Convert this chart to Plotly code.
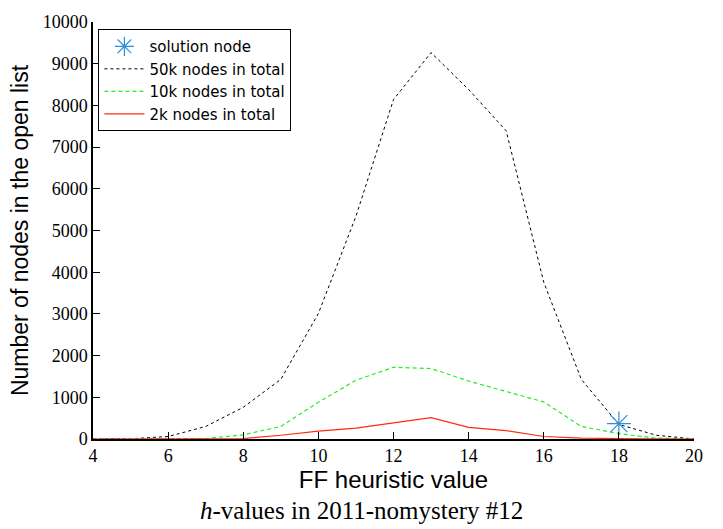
import plotly.graph_objects as go

h_values = list(range(4, 21))
nodes_50k = [0, 5, 60, 300, 760, 1430, 3010, 5340, 8140, 9265, 8380, 7390, 3760, 1430, 350, 90, 0]
nodes_10k = [0, 0, 0, 10, 100, 300, 880, 1410, 1720, 1690, 1390, 1140, 890, 300, 130, 20, 0]
nodes_2k = [0, 0, 0, 0, 10, 90, 190, 260, 390, 510, 280, 200, 60, 20, 10, 0, 0]
solution_h = [18]
solution_n = [370]

x_ticks = [4, 6, 8, 10, 12, 14, 16, 18, 20]
y_ticks = list(range(0, 10001, 1000))

fig = go.Figure()
fig.add_trace(go.Scatter(x=h_values, y=nodes_50k, mode="lines", name="50k nodes in total",
                         legendrank=2,
                         line=dict(color="black", width=1, dash="dot")))
fig.add_trace(go.Scatter(x=h_values, y=nodes_10k, mode="lines", name="10k nodes in total",
                         legendrank=3,
                         line=dict(color="#22ee22", width=1.2, dash="4px,3px")))
fig.add_trace(go.Scatter(x=h_values, y=nodes_2k, mode="lines", name="2k nodes in total",
                         legendrank=4,
                         line=dict(color="#ff2a10", width=1.2)))
fig.add_trace(go.Scatter(x=solution_h, y=solution_n, mode="markers", name="solution node",
                         legendrank=1,
                         marker=dict(symbol="asterisk-open", size=20, color="#2f8fd8",
                                     line=dict(color="#2f8fd8", width=1.2))))

serif = "Liberation Serif, Times New Roman, serif"
sans = "Liberation Sans, Arial, sans-serif"

fig.update_layout(
    width=723, height=529,
    margin=dict(l=93, r=29, t=16, b=90),
    paper_bgcolor="white", plot_bgcolor="white",
    showlegend=True,
    legend=dict(x=0.009, y=0.983, xanchor="left", yanchor="top",
                bordercolor="black", borderwidth=1, bgcolor="white",
                font=dict(family="DejaVu Sans, sans-serif", size=15, color="black"),
                tracegroupgap=0, itemwidth=40),
    xaxis=dict(range=[4, 20], tickvals=x_ticks, ticktext=[str(v) for v in x_ticks],
               ticks="inside", ticklen=7, tickwidth=1, tickcolor="black",
               showline=True, linecolor="black", linewidth=1.5, mirror=False,
               showgrid=False, zeroline=False,
               tickfont=dict(family=serif, size=18, color="black"),
               title=dict(text="FF heuristic value", standoff=6,
                          font=dict(family=sans, size=24, color="black"))),
    yaxis=dict(range=[0, 10000], tickvals=y_ticks, ticktext=[str(v) for v in y_ticks],
               ticks="inside", ticklen=7, tickwidth=1, tickcolor="black",
               showline=True, linecolor="black", linewidth=1.5, mirror=False,
               showgrid=False, zeroline=False,
               tickfont=dict(family=serif, size=18, color="black"),
               title=dict(text="Number of nodes in the open list", standoff=8,
                          font=dict(family=sans, size=23, color="black"))),
    annotations=[dict(text="<i>h</i>-values in 2011-nomystery #12", xref="paper", yref="paper",
                      x=0.446, y=-0.172, xanchor="center", yanchor="middle", showarrow=False,
                      font=dict(family=serif, size=25, color="black"))],
)

fig.write_html("out.html")
